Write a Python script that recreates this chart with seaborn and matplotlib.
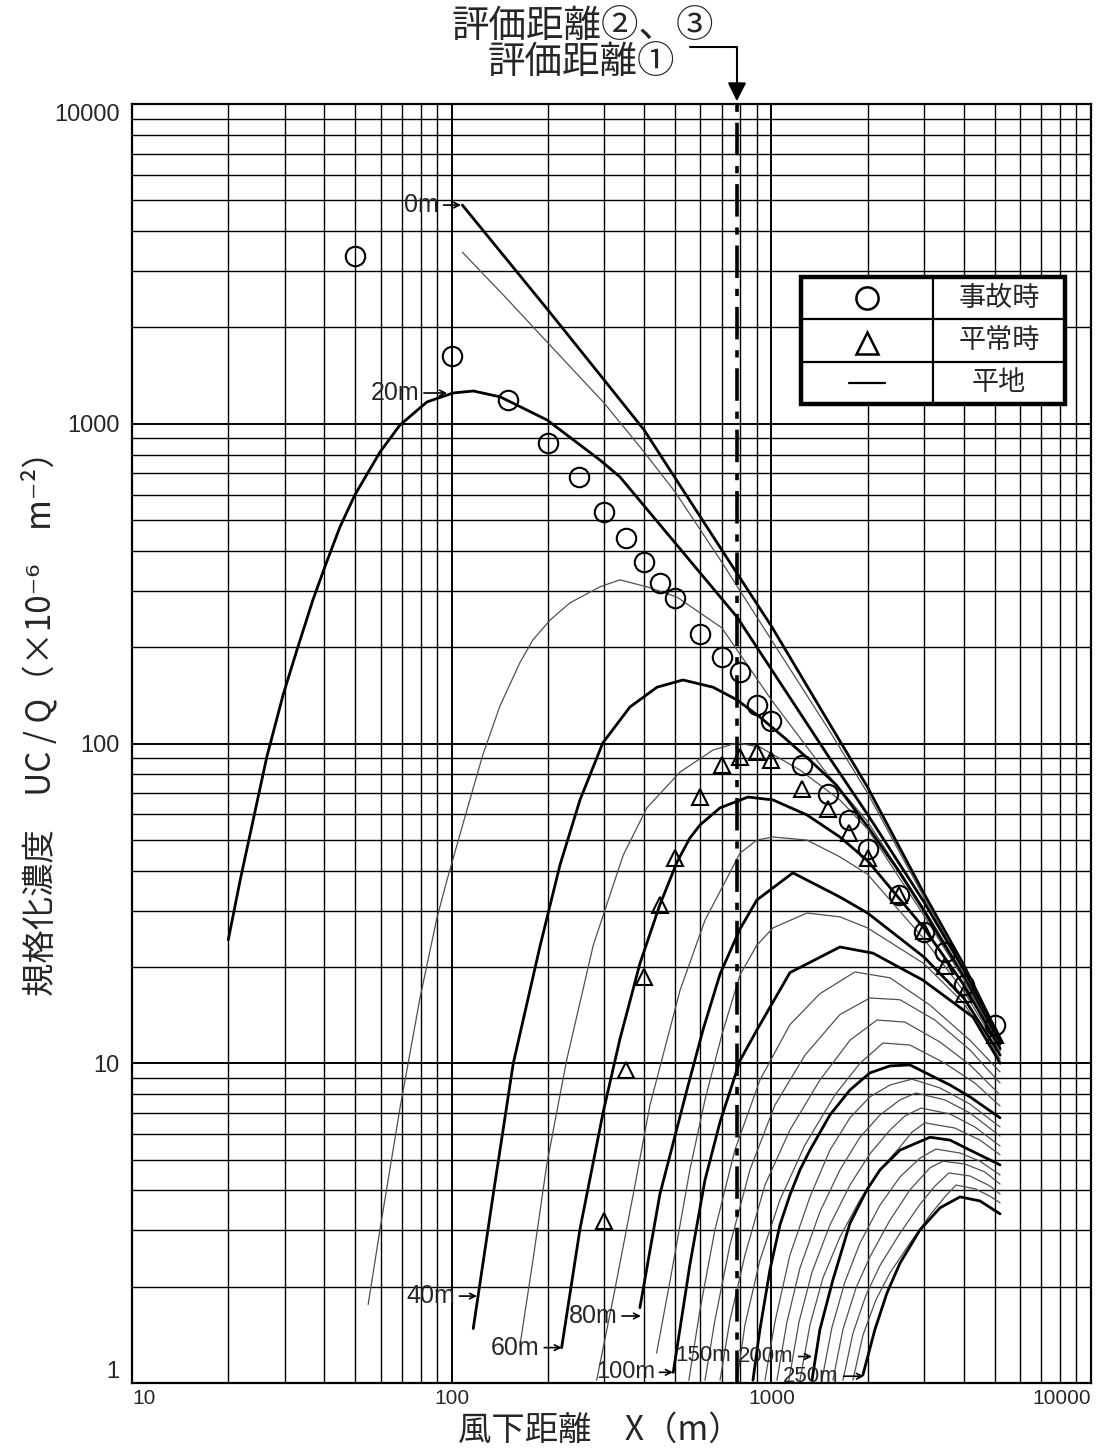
import matplotlib
matplotlib.use("Agg")
import matplotlib.pyplot as plt
from matplotlib.lines import Line2D
from matplotlib.patches import Rectangle
from matplotlib.ticker import LogLocator, NullFormatter, FixedLocator
import numpy as np
import pandas as pd
import seaborn as sns

sns.set_theme(style="white")
plt.rcParams['font.family'] = ['Noto Sans CJK JP', 'DejaVu Sans']
plt.rcParams['axes.unicode_minus'] = False

NUM_FONT = ['Liberation Sans', 'DejaVu Sans']
NARROW_FONT = ['Liberation Sans Narrow', 'Liberation Sans', 'DejaVu Sans']

# ---- normalised concentration curves for each release height (flat terrain) ----
x_0m = [108, 150, 200, 300, 400, 500, 700, 1000, 1500, 2000, 3000, 4000, 5200]
y_0m = [4830, 3230, 2270, 1370, 956, 677, 403, 233, 118, 73, 34, 20.3, 11.9]
x_10m = [108, 150, 200, 300, 400, 500, 700, 1000, 1500, 2000, 3000, 4000, 5200]
y_10m = [3440, 2440, 1790, 1160, 816, 612, 369, 211, 112, 70, 33.1, 19.9, 11.8]
x_20m = [20, 21.8, 26.4, 29.7, 32.8, 36.8, 40.2, 44.7, 49.8, 59.7, 68.9, 83.7, 101, 117,
         142, 199, 291, 336, 500, 780, 901, 1500, 2000, 3000, 4000, 5200]
y_20m = [24.3, 37.4, 90.7, 142, 196, 281, 359, 475, 599, 816, 991, 1170, 1248, 1266,
         1213, 1027, 770, 682, 424, 249, 200, 92, 60, 32, 19.6, 11.7]
x_30m = [54.8, 59.7, 68.9, 79.6, 89.8, 96.7, 111.6, 125.3, 141.6, 163.5, 179.6, 203, 234,
         291, 336, 408, 507, 700, 1000, 1500, 2000, 3000, 4000, 5200]
y_30m = [1.76, 3.03, 7.23, 16.0, 28.3, 37.4, 61.9, 92.5, 131, 179, 211, 243, 275,
         309, 325, 309, 287, 230, 137, 80, 57, 30.5, 19.0, 11.6]
x_40m = [116.8, 134.9, 155.8, 188.9, 218.2, 252, 297, 361, 439, 529, 657, 780, 921, 1119, 1349,
         1600, 2000, 2500, 3000, 4000, 5200]
y_40m = [1.48, 3.89, 9.98, 23.2, 41.7, 66.6, 100.4, 130, 150, 158, 150, 137, 121, 102.6, 86.9,
         74, 55, 40, 30, 18.6, 11.5]
x_50m = [163.5, 180, 198.3, 229, 277.3, 344.2, 408, 518, 657, 780, 921, 1229, 1639, 2000,
         3000, 4000, 5200]
y_50m = [1.31, 2.46, 4.81, 10.24, 23.4, 44.8, 62.9, 81.4, 95.4, 100.4, 97.5, 82.6, 66.6, 54,
         29, 18.3, 11.3]
x_60m = [220.8, 252, 298, 336, 388, 448, 507, 556, 598, 691, 845, 1012, 1292, 1639, 2000,
         3000, 4000, 5200]
y_60m = [1.29, 3.03, 7.05, 11.9, 20.5, 31.3, 42.6, 50.6, 55.6, 62.9, 68.0, 66.6, 59.8, 51.0, 43,
         26.5, 17.6, 11.1]
x_70m = [284.1, 320.4, 369.8, 417.2, 518, 620, 798, 901, 1012, 1292, 1639, 2000, 3000, 4000, 5200]
y_70m = [1.02, 1.85, 3.89, 7.40, 16.9, 28.0, 45.4, 49.9, 51.0, 49.9, 44.2, 39, 24.5, 16.8, 10.9]
x_80m = [388, 448, 543.3, 612.4, 691, 798, 901, 1168, 1639, 2000, 3000, 4000, 5200]
y_80m = [1.72, 3.89, 8.19, 12.8, 19.0, 26.3, 32.4, 39.4, 33.1, 29.5, 21.5, 16.0, 10.6]
x_90m = [437.7, 493.4, 556, 620, 700.6, 798, 901, 1012, 1292, 1639, 2000, 3000, 4000, 5200]
y_90m = [1.24, 2.37, 4.64, 7.68, 12.3, 18.9, 23.4, 26.5, 29.5, 28.7, 26.5, 20.5, 15.4, 10.3]
x_100m = [493.4, 556, 620, 691, 798, 901, 1143, 1639, 2079, 2978, 4272, 5200]
y_100m = [1.08, 2.34, 4.31, 6.55, 10.2, 12.7, 19.2, 23.1, 22.1, 18.2, 13.95, 10.0]
x_110m = [552, 598, 666, 769, 921, 1143, 1419, 1826, 2350, 3135, 4183, 5193]
y_110m = [1.02, 1.69, 3.01, 5.35, 8.86, 13.2, 16.5, 19.3, 18.5, 15.2, 11.8, 9.4]
x_120m = [620, 666, 742, 857, 1026, 1274, 1639, 2034, 2526, 3249, 4183, 5193]
y_120m = [1.02, 1.57, 2.70, 4.64, 7.40, 10.6, 14.2, 16.0, 15.8, 13.65, 11.0, 8.67]
x_130m = [691, 742, 827, 955, 1143, 1419, 1762, 2140, 2618, 3370, 4183, 5193]
y_130m = [1.02, 1.57, 2.51, 4.16, 6.18, 8.86, 11.8, 13.65, 13.45, 11.65, 9.88, 7.96]
x_140m = [781, 827, 921, 1064, 1274, 1581, 1894, 2234, 2715, 3491, 4333, 5193]
y_140m = [1.02, 1.52, 2.42, 3.74, 5.55, 7.96, 10.0, 11.57, 11.4, 10.0, 8.67, 7.35]
x_150m = [876, 921, 990, 1064, 1143, 1229, 1321, 1525, 1762, 2034, 2350, 2715, 3135, 3622,
          4183, 5193]
y_150m = [1.02, 1.47, 2.26, 3.12, 3.87, 4.64, 5.35, 6.89, 8.25, 9.33, 9.81, 9.88, 9.19, 8.55,
          7.85, 6.75]
x_160m = [955, 1026, 1143, 1321, 1525, 1762, 2034, 2350, 2753, 3370, 4183, 5193]
y_160m = [1.02, 1.55, 2.51, 3.82, 5.35, 6.75, 7.85, 8.55, 8.92, 8.37, 7.45, 6.32]
x_170m = [1041, 1119, 1229, 1419, 1639, 1894, 2187, 2526, 2834, 3491, 4183, 5193]
y_170m = [1.02, 1.55, 2.29, 3.43, 4.64, 5.87, 6.89, 7.68, 8.07, 7.68, 6.99, 5.92]
x_180m = [1135, 1220, 1340, 1525, 1762, 2034, 2350, 2618, 2938, 3622, 4333, 5193]
y_180m = [1.02, 1.55, 2.22, 3.12, 4.16, 5.21, 6.18, 6.84, 7.24, 6.94, 6.32, 5.51]
x_190m = [1229, 1321, 1450, 1639, 1894, 2187, 2526, 2753, 3023, 3752, 4496, 5193]
y_190m = [1.02, 1.52, 2.13, 2.86, 3.74, 4.64, 5.47, 6.09, 6.51, 6.27, 5.75, 5.17]
x_200m = [1340, 1419, 1558, 1762, 1991, 2187, 2526, 3135, 3622, 4183, 5193]
y_200m = [1.02, 1.47, 2.10, 3.16, 4.02, 4.64, 5.35, 5.87, 5.75, 5.35, 4.81]
x_210m = [1439, 1547, 1699, 1894, 2187, 2526, 2917, 3272, 3892, 4496, 5193]
y_210m = [1.02, 1.49, 2.07, 2.74, 3.60, 4.41, 5.05, 5.39, 5.24, 4.94, 4.47]
x_220m = [1558, 1675, 1839, 2034, 2350, 2715, 3135, 3441, 4032, 4657, 5193]
y_220m = [1.02, 1.47, 1.98, 2.48, 3.23, 4.02, 4.71, 4.94, 4.84, 4.57, 4.19]
x_230m = [1675, 1800, 1976, 2187, 2526, 2917, 3249, 3593, 4183, 4832, 5193]
y_230m = [1.02, 1.43, 1.88, 2.33, 2.94, 3.62, 4.13, 4.54, 4.44, 4.13, 3.90]
x_240m = [1800, 1934, 2124, 2350, 2715, 3135, 3491, 3779, 4333, 4832, 5193]
y_240m = [1.02, 1.41, 1.82, 2.21, 2.74, 3.35, 3.82, 4.16, 4.05, 3.84, 3.66]
x_250m = [1934, 2109, 2299, 2526, 2917, 3370, 3892, 4496, 5193]
y_250m = [1.06, 1.47, 1.91, 2.37, 3.01, 3.53, 3.82, 3.71, 3.38]

# ---- measured points ----
accident_x = [50, 100, 150, 200, 250, 300, 350, 400, 450, 500, 600, 700, 800, 900, 1000,
              1250, 1500, 1750, 2000, 2500, 3000, 3500, 4000, 5000]
accident_y = [3350, 1630, 1190, 871, 682, 530, 439, 369, 318, 285, 220, 186, 167, 132, 118,
              85.7, 69.5, 57.6, 46.8, 33.6, 25.7, 22.3, 17.6, 13.2]
normal_x = [300, 350, 400, 450, 500, 600, 700, 800, 900, 1000, 1250, 1500, 1750, 2000, 2500,
            3000, 3500, 4000, 5000]
normal_y = [3.2, 9.5, 18.6, 31.3, 43.8, 68.0, 85.7, 90.7, 94.1, 88.8, 72.1, 62.4, 52.5, 43.8,
            33.6, 25.9, 20.1, 16.5, 12.3]

eval_distance = 780

curves = {
    0: (x_0m, y_0m), 10: (x_10m, y_10m), 20: (x_20m, y_20m), 30: (x_30m, y_30m),
    40: (x_40m, y_40m), 50: (x_50m, y_50m), 60: (x_60m, y_60m), 70: (x_70m, y_70m),
    80: (x_80m, y_80m), 90: (x_90m, y_90m), 100: (x_100m, y_100m), 110: (x_110m, y_110m),
    120: (x_120m, y_120m), 130: (x_130m, y_130m), 140: (x_140m, y_140m), 150: (x_150m, y_150m),
    160: (x_160m, y_160m), 170: (x_170m, y_170m), 180: (x_180m, y_180m), 190: (x_190m, y_190m),
    200: (x_200m, y_200m), 210: (x_210m, y_210m), 220: (x_220m, y_220m), 230: (x_230m, y_230m),
    240: (x_240m, y_240m), 250: (x_250m, y_250m),
}
labelled = {0, 20, 40, 60, 80, 100, 150, 200, 250}

rows = []
for h, (xs, ys) in curves.items():
    for i, (xv, yv) in enumerate(zip(xs, ys)):
        rows.append({"height": h, "order": i, "distance": xv, "conc": yv})
df = pd.DataFrame(rows)

W, H = 1097, 1448
fig = plt.figure(figsize=(W / 100, H / 100), dpi=100)
ax = fig.add_axes([132 / W, 1 - 1383 / H, (1091 - 132) / W, (1383 - 104) / H])
ax.set_xscale('log')
ax.set_yscale('log')

# grid
ax.xaxis.set_major_locator(FixedLocator([10, 100, 1000, 10000]))
ax.yaxis.set_major_locator(FixedLocator([1, 10, 100, 1000, 10000]))
ax.xaxis.set_minor_locator(LogLocator(base=10, subs=np.arange(2, 10), numticks=20))
ax.yaxis.set_minor_locator(LogLocator(base=10, subs=np.arange(2, 10), numticks=20))
ax.xaxis.set_minor_formatter(NullFormatter())
ax.yaxis.set_minor_formatter(NullFormatter())
ax.grid(which='major', color='black', lw=1.4)
ax.grid(which='minor', color='black', lw=1.0)
ax.tick_params(which='both', length=0)
for sp in ax.spines.values():
    sp.set_color('black')
    sp.set_linewidth(1.6)

for h in curves:
    sub = df[df.height == h].sort_values("order")
    thick = h in labelled
    sns.lineplot(data=sub, x="distance", y="conc", ax=ax, sort=False, estimator=None,
                 color='black' if thick else '#505050', linewidth=2.0 if thick else 0.9,
                 legend=False, zorder=3)

ax.plot(accident_x, accident_y, linestyle='none', marker='o', ms=14, mfc='none',
        mec='black', mew=1.5, zorder=5)
ax.plot(normal_x, normal_y, linestyle='none', marker='^', ms=12, mfc='none',
        mec='black', mew=1.5, zorder=5)

ax.axvline(eval_distance, color='black', lw=2.6, linestyle=(0, (9, 3, 2, 3)), zorder=4)

ax.set_xlim(10, 10000)
ax.set_ylim(1, 10000)
ax.set_xlabel('')
ax.set_ylabel('')

ax.set_xticklabels(['10', '100', '1000', '10000'], fontsize=15, family=NUM_FONT)
ax.set_yticklabels(['1', '10', '100', '1000', '10000'], fontsize=17, family=NUM_FONT)
ax.tick_params(axis='x', pad=4)
ax.tick_params(axis='y', pad=9)
xl = ax.get_xticklabels()
xl[0].set_ha('left')
xl[-1].set_ha('right')
yl = ax.get_yticklabels()
yl[0].set_va('bottom')
yl[-1].set_va('top')

# release-height labels with leader arrows
# (text, arrow tip x, tip y, arrow length in pt, font size)
height_labels = [
    ('0m', 107, 4830, 16, 18), ('20m', 96.7, 1248, 20, 18), ('40m', 120, 1.87, 16, 18),
    ('60m', 221, 1.29, 16, 18), ('80m', 391, 1.62, 17, 18), ('100m', 492, 1.08, 13, 17),
    ('200m', 1340, 1.21, 13, 16), ('250m', 1948, 1.05, 18, 16),
]
for txt, xv, yv, gap, fs in height_labels:
    ax.annotate(txt, xy=(xv, yv), xycoords='data', xytext=(-gap, 0),
                textcoords='offset points', ha='right', va='center', fontsize=fs,
                family=NARROW_FONT, zorder=6,
                arrowprops=dict(arrowstyle='->', color='black', lw=1.2,
                                shrinkA=1, shrinkB=0, mutation_scale=10))
ax.text(500, 1.22, '150m', ha='left', va='center', fontsize=16, family=NARROW_FONT, zorder=6)

fig.text(40 / W, 1 - 715 / H, '規格化濃度　UC / Q（×10⁻⁶　m⁻²）', rotation=90,
         ha='center', va='center', fontsize=24)
fig.text(600 / W, 1 - 1430 / H, '風下距離　X（m）', ha='center', va='center', fontsize=24)

# evaluation distance call-out
fig.text(583 / W, 1 - 26 / H, '評価距離②、③', ha='center', va='center', fontsize=27)
fig.text(675 / W, 1 - 62 / H, '評価距離①', ha='right', va='center', fontsize=27)
fig.add_artist(Line2D([690 / W, 737 / W, 737 / W], [1 - 47 / H, 1 - 47 / H, 1 - 90 / H],
                      transform=fig.transFigure, color='black', lw=1.5))
ax.annotate('', xy=(eval_distance, 10000), xycoords='data', xytext=(737, H - 80),
            textcoords='figure pixels',
            arrowprops=dict(arrowstyle='-|>', color='black', lw=1.5, mutation_scale=28),
            annotation_clip=False)

# legend table
lax = fig.add_axes([801 / W, 1 - 404 / H, 264 / W, 127 / H])
lax.set_xlim(0, 2)
lax.set_ylim(0, 3)
lax.axis('off')
lax.add_patch(Rectangle((0, 0), 2, 3, facecolor='white', edgecolor='black', lw=3.2,
                        clip_on=False))
lax.plot([1, 1], [0, 3], color='black', lw=1.6)
lax.plot([0, 2], [1, 1], color='black', lw=1.6)
lax.plot([0, 2], [2, 2], color='black', lw=1.6)
lax.plot([0.5], [2.5], marker='o', ms=16, mfc='none', mec='black', mew=1.8)
lax.plot([0.5], [1.45], marker='^', ms=16, mfc='none', mec='black', mew=1.8)
lax.plot([0.36, 0.64], [0.5, 0.5], color='black', lw=1.6)
for yv, txt in [(2.5, '事故時'), (1.5, '平常時'), (0.5, '平地')]:
    lax.text(1.5, yv, txt, ha='center', va='center', fontsize=19.5)

fig.savefig('out.png', dpi=100)
